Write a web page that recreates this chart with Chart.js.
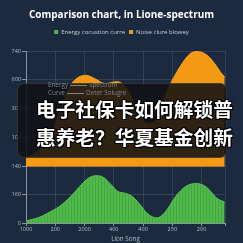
<!DOCTYPE html>
<html><head><meta charset="utf-8">
<script src="https://cdn.jsdelivr.net/npm/chart.js@4/dist/chart.umd.min.js"></script>
<style>
html,body{margin:0;padding:0;background:#1b2a3e;width:243px;height:243px;overflow:hidden}
#wrap{position:relative;width:243px;height:243px}
canvas{position:absolute;left:0;top:0}
#box{position:absolute;left:17px;top:83px;width:210px;height:75px;box-sizing:border-box;background:rgba(16,17,19,0.87);border:1px solid rgba(255,255,255,0.13);border-radius:7px}
.ann{position:absolute;left:48px;font:6.3px/8px "Open Sans",sans-serif;color:#7d848c;white-space:nowrap}
.ann i{display:inline-block;width:17px;height:1px;background:#7d848c;vertical-align:middle;margin:0 2px}
.cn{position:absolute;left:36px;font:700 19.7px/28px "Noto Sans CJK SC",sans-serif;color:#fff;white-space:nowrap;text-shadow:0 0 2px #000,1px 1px 0 #000,-1px -1px 0 #000,1px -1px 0 #000,-1px 1px 0 #000}
</style></head>
<body><div id="wrap">
<canvas id="c" width="243" height="243"></canvas>
<div id="box"></div>
<div class="ann" style="top:81px">Energy<i></i>Spectrum</div>
<div class="ann" style="top:89px">Curve<i></i>Deter Solugre</div>
<div class="cn" style="top:95px">电子社保卡如何解锁普</div>
<div class="cn" style="top:123px">惠养老？华夏基金创新</div>
</div>
<script>
const titleText = 'Comparison chart, in Lione-spectrum';
const seriesNames = ['Energy cocustion curre', 'Noise clure blowey'];
const xLabels = ['1000', '200', '2000', '400', '400', '250', '200'];
const axisTitle = 'Lion Song';
const topYLabels = ['', '100', '300', '600', '740'];
const botYLabels = ['0', '160', '140'];

const greenX = [0, 0.48, 0.82, 1.16, 1.5, 1.84, 2.12, 2.39, 2.66, 2.9, 3.14, 3.41, 3.62, 3.86, 4.13, 4.47, 4.78, 5.12, 5.46, 5.84, 6.18, 6.52, 6.79];
const greenY = [7, 21, 39, 60, 91, 130, 158, 168, 161, 137, 112, 105, 95, 70, 35, 18, 42, 95, 130, 140, 126, 88, 74];

const orangeX = [0, 0.48, 0.9, 1.16, 1.43, 1.67, 2.05, 2.39, 2.7, 3.11, 3.45, 3.79, 4.13, 4.47, 4.74, 4.98, 5.26, 5.6, 5.84, 6.18, 6.45, 6.69, 6.79];
const orangeY = [0.3, 0.6, 1.2, 1.9, 2.65, 3.0, 3.16, 3.02, 2.87, 2.94, 2.7, 2.0, 1.5, 1.6, 2.4, 2.95, 3.45, 3.9, 3.98, 3.86, 3.56, 3.21, 3.11];

const cv = document.getElementById('c');
const pc = document.createElement('canvas'); pc.width = 3; pc.height = 4;
const pg = pc.getContext('2d');
pg.fillStyle = '#4fba4a'; pg.fillRect(0, 0, 3, 4);
pg.fillStyle = '#43a641'; pg.fillRect(2, 0, 1, 4);
const greenPattern = cv.getContext('2d').createPattern(pc, 'repeat');
const legendColors = ['#4cb648', '#f39a12'];

const tickColor = '#b7bec8';
const tickFont = {family: 'Open Sans', size: 5.5};
const gridColor = 'rgba(255,255,255,0.11)';
const borderColor = '#8a94a1';

const legendSpacer = {id: 'legendSpacer', beforeInit(chart) {
  const fit = chart.legend.fit;
  chart.legend.fit = function () { fit.call(this); this.height += 6; };
}};

new Chart(cv, {
  type: 'line',
  plugins: [legendSpacer],
  data: {datasets: [
    {label: seriesNames[0], data: greenX.map((x, i) => ({x, y: greenY[i]})), yAxisID: 'yb', fill: 'origin',
     backgroundColor: greenPattern, borderColor: '#5cc657', borderWidth: 1, pointRadius: 0, cubicInterpolationMode: 'monotone'},
    {label: seriesNames[1], data: orangeX.map((x, i) => ({x, y: orangeY[i]})), yAxisID: 'yt', fill: 'origin',
     backgroundColor: '#f39a12', borderColor: '#f6a21e', borderWidth: 1, pointRadius: 0, cubicInterpolationMode: 'monotone'}
  ]},
  options: {
    responsive: false, animation: false, devicePixelRatio: 1,
    layout: {padding: {left: 0, right: 0, top: 0, bottom: 0}},
    plugins: {
      title: {display: true, text: titleText, color: '#ffffff', font: {family: 'Open Sans', size: 10, weight: 'bold'}, padding: {top: 9, bottom: 4}},
      legend: {labels: {color: '#c9ced6', font: {family: 'Open Sans', size: 6}, boxWidth: 4, boxHeight: 4, padding: 4,
        generateLabels: (chart) => Chart.defaults.plugins.legend.labels.generateLabels(chart).map((l, i) => Object.assign(l, {fillStyle: legendColors[i], strokeStyle: legendColors[i], lineWidth: 0}))}},
      tooltip: {enabled: false}
    },
    scales: {
      x: {type: 'linear', min: 0, max: 6.8,
        ticks: {stepSize: 1, color: tickColor, font: tickFont, maxRotation: 0, padding: 0, callback: (v) => (Number.isInteger(v) && xLabels[v] !== undefined) ? xLabels[v] : ''},
        grid: {color: gridColor, tickLength: 3, tickColor: borderColor}, border: {color: borderColor},
        title: {display: true, text: axisTitle, color: tickColor, font: {family: 'Open Sans', size: 6.3}, padding: 0},
        afterFit: (s) => { s.height = 20; }},
      yb: {type: 'linear', position: 'left', stack: 's', stackWeight: 57, min: 0, max: 200,
        ticks: {stepSize: 100, color: tickColor, font: tickFont, padding: 1, callback: (v) => botYLabels[v / 100]},
        grid: {color: gridColor, tickLength: 4, tickColor: borderColor}, border: {color: borderColor},
        afterFit: (s) => { s.width = 26; }},
      yt: {type: 'linear', position: 'left', stack: 's', stackWeight: 117, min: 0, max: 4,
        ticks: {stepSize: 1, color: tickColor, font: tickFont, padding: 1, callback: (v) => topYLabels[v]},
        grid: {color: gridColor, tickLength: 4, tickColor: borderColor}, border: {color: borderColor},
        afterFit: (s) => { s.width = 26; }},
      yr: {type: 'linear', position: 'right', display: true, min: 0, max: 1,
        ticks: {display: false}, grid: {display: false}, border: {display: false},
        afterFit: (s) => { s.width = 18; }}
    }
  }
});
</script>
</body></html>
